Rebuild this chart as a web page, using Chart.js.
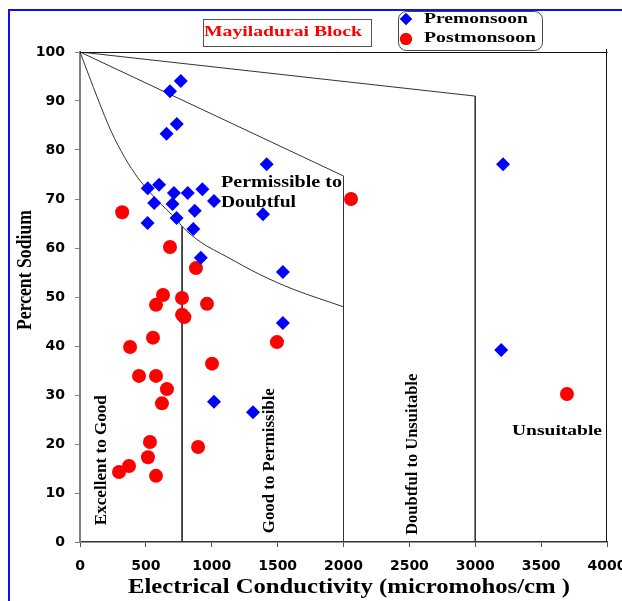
<!DOCTYPE html>
<html>
<head>
<meta charset="utf-8">
<title>Mayiladurai Block - Wilcox diagram</title>
<script src="https://cdn.jsdelivr.net/npm/chart.js@4.4.1/dist/chart.umd.min.js"></script>
<style>
    html, body { margin: 0; padding: 0; background: #fff; }
    #wrap { width: 622px; height: 601px; }
</style>
</head>
<body>
<div id="wrap"><canvas id="wilcoxChart" width="622" height="601"></canvas></div>
<script>
// --- data ---
const preEC = [765, 683, 735, 657, 1417, 3211, 514, 600, 713, 818, 929, 1017, 563, 702, 871, 1389, 733, 513, 860, 917, 1540, 1540, 1017, 1313, 3197];
const preNa = [94.1, 92.0, 85.3, 83.3, 77.1, 77.1, 72.2, 72.9, 71.2, 71.2, 72.0, 69.6, 69.2, 69.0, 67.6, 66.9, 66.1, 65.1, 63.9, 58.0, 55.1, 44.7, 28.6, 26.5, 39.2];

const postEC = [320, 683, 880, 2057, 630, 774, 577, 964, 775, 792, 554, 380, 1495, 1002, 448, 577, 660, 622, 531, 896, 516, 372, 296, 577, 3696];
const postNa = [67.3, 60.2, 55.9, 70.0, 50.4, 49.8, 48.4, 48.6, 46.4, 45.9, 41.7, 39.8, 40.8, 36.4, 33.9, 33.9, 31.2, 28.3, 20.4, 19.4, 17.3, 15.5, 14.3, 13.5, 30.2];

// class boundaries of the diagram
const topLineEC = [0, 3000, 3000];
const topLineNa = [100, 91, 0];
const midLineEC = [0, 2000, 2000];
const midLineNa = [100, 74.7, 0];
const lowCurveEC = [0, 136, 235, 341, 440, 569, 743, 775, 911, 1115, 1364, 1617, 2000];
const lowCurveNa = [100, 90.4, 83.9, 78.4, 74.3, 70.2, 65.5, 64.4, 61.3, 58.2, 54.6, 51.6, 48];
const goodLineEC = [775, 775];
const goodLineNa = [64.4, 0];

const ecTicks = [0, 500, 1000, 1500, 2000, 2500, 3000, 3500, 4000];
const naTicks = [0, 10, 20, 30, 40, 50, 60, 70, 80, 90, 100];

const BLUE = "#0000ff";
const RED = "#ff0000";
const LINE = "#333333";
const SERIF = '"Liberation Serif", "Times New Roman", serif';

function toPoints(xs, ys) {
    return xs.map((x, i) => ({ x: x, y: ys[i] }));
}

function boundary(xs, ys, smooth) {
    return {
        data: toPoints(xs, ys),
        showLine: true,
        pointRadius: 0,
        borderColor: LINE,
        borderWidth: 1,
        fill: false,
        tension: 0,
        cubicInterpolationMode: smooth ? "monotone" : "default",
        isBoundary: true
    };
}

// draws text squeezed/stretched to a given length
function fitText(ctx, text, x, y, font, length, align, angle) {
    ctx.save();
    ctx.font = font;
    const sx = length / ctx.measureText(text).width;
    ctx.translate(x, y);
    if (angle) ctx.rotate(angle);
    ctx.scale(sx, 1);
    ctx.textAlign = align;
    ctx.textBaseline = "middle";
    ctx.fillText(text, 0, 0);
    ctx.restore();
}

const framePlugin = {
    id: "frame",
    beforeDraw(chart) {
        const ctx = chart.ctx;
        ctx.save();
        ctx.fillStyle = "#ffffff";
        ctx.fillRect(0, 0, chart.width, chart.height);
        ctx.strokeStyle = "#1010f0";
        ctx.lineWidth = 2;
        ctx.beginPath();
        ctx.moveTo(9, chart.height);
        ctx.lineTo(9, 10);
        ctx.lineTo(chart.width, 10);
        ctx.stroke();
        ctx.restore();
    },
    afterDraw(chart) {
        const ctx = chart.ctx;
        const a = chart.chartArea;
        const xs = chart.scales.x;
        const ys = chart.scales.y;

        // top and right edge of the plot
        ctx.save();
        ctx.strokeStyle = "#111";
        ctx.lineWidth = 1;
        ctx.beginPath();
        ctx.moveTo(a.left, a.top + 0.5);
        ctx.lineTo(a.right + 0.5, a.top + 0.5);
        ctx.moveTo(a.right - 0.5, a.top - 3);
        ctx.lineTo(a.right - 0.5, a.bottom);
        ctx.stroke();
        ctx.restore();

        ctx.save();
        ctx.fillStyle = "#000";
        const f16 = "bold 16px " + SERIF;
        const f15 = "bold 15px " + SERIF;

        // class labels, placed in data units
        fitText(ctx, "Permissible to", xs.getPixelForValue(1070), ys.getPixelForValue(73.3), f16, 121, "left");
        fitText(ctx, "Doubtful", xs.getPixelForValue(1070), ys.getPixelForValue(69.2), f16, 75, "left");
        fitText(ctx, "Excellent to Good", xs.getPixelForValue(167), ys.getPixelForValue(16.7), f16, 130, "center", -Math.PI / 2);
        fitText(ctx, "Good to Permissible", xs.getPixelForValue(1442), ys.getPixelForValue(16.6), f16, 145, "center", -Math.PI / 2);
        fitText(ctx, "Doubtful to Unsuitable", xs.getPixelForValue(2527), ys.getPixelForValue(17.9), f16, 161, "center", -Math.PI / 2);
        fitText(ctx, "Unsuitable", xs.getPixelForValue(3279), ys.getPixelForValue(22.7), f15, 90, "left");

        // axis titles
        fitText(ctx, "Percent Sodium", 26, 270, "bold 20px " + SERIF, 120, "center", -Math.PI / 2);
        fitText(ctx, "Electrical Conductivity (micromohos/cm )", 349, 588, "bold 20px " + SERIF, 442, "center");

        // block name box
        ctx.strokeStyle = "#555";
        ctx.lineWidth = 1;
        ctx.strokeRect(203.5, 19.5, 168, 27);
        ctx.fillStyle = RED;
        fitText(ctx, "Mayiladurai Block", 283, 32, f15, 158, "center");

        // legend box
        const lx = 398.5, ly = 11.5, lw = 144, lh = 39, r = 8;
        ctx.fillStyle = "#fff";
        ctx.strokeStyle = "#444";
        ctx.beginPath();
        ctx.roundRect(lx, ly, lw, lh, r);
        ctx.fill();
        ctx.stroke();

        const series = chart.data.datasets.filter(d => !d.isBoundary);
        const rows = [19, 39];
        series.forEach((ds, i) => {
            ctx.fillStyle = ds.backgroundColor;
            Chart.helpers.drawPoint(ctx, {
                pointStyle: ds.pointStyle,
                radius: 6,
                borderWidth: 0
            }, 406, rows[i]);
            ctx.fill();
            ctx.fillStyle = "#000";
            fitText(ctx, ds.label, 424, i === 0 ? 19 : 38, f15, i === 0 ? 104 : 112, "left");
        });
        ctx.restore();
    }
};

function renderWilcoxChart() {
    const ctx = document.getElementById("wilcoxChart").getContext("2d");

    new Chart(ctx, {
        type: "scatter",
        data: {
            datasets: [
                {
                    label: "Premonsoon",
                    data: toPoints(preEC, preNa),
                    pointStyle: "rectRot",
                    pointRadius: 7,
                    backgroundColor: BLUE,
                    borderColor: BLUE,
                    borderWidth: 0
                },
                {
                    label: "Postmonsoon",
                    data: toPoints(postEC, postNa),
                    pointStyle: "circle",
                    pointRadius: 7,
                    backgroundColor: RED,
                    borderColor: RED,
                    borderWidth: 0
                },
                boundary(topLineEC, topLineNa, false),
                boundary(midLineEC, midLineNa, false),
                boundary(lowCurveEC, lowCurveNa, true),
                boundary(goodLineEC, goodLineNa, false)
            ]
        },
        options: {
            responsive: false,
            animation: false,
            layout: { padding: { top: 52, right: 15, left: 0, bottom: 0 } },
            plugins: {
                legend: { display: false },
                tooltip: { enabled: false }
            },
            scales: {
                x: {
                    type: "linear",
                    min: 0,
                    max: 4000,
                    afterBuildTicks: scale => {
                        scale.ticks = ecTicks.map(v => ({ value: v }));
                    },
                    afterFit: scale => {
                        scale.height = 59;
                        scale.paddingRight = 0;
                    },
                    grid: { drawOnChartArea: false, tickLength: 5, color: "#555" },
                    border: { color: "#333", width: 1.5 },
                    ticks: {
                        padding: 11,
                        color: "#000",
                        maxRotation: 0,
                        autoSkip: false,
                        callback: value => String(value),
                        font: { family: "DejaVu Sans", size: 14, weight: "bold" }
                    }
                },
                y: {
                    type: "linear",
                    min: 0,
                    max: 100,
                    afterBuildTicks: scale => {
                        scale.ticks = naTicks.map(v => ({ value: v }));
                    },
                    afterFit: scale => {
                        scale.width = 80;
                    },
                    grid: { drawOnChartArea: false, tickLength: 5, color: "#808080" },
                    border: { color: "#808080", width: 2 },
                    ticks: {
                        padding: 10,
                        color: "#000",
                        callback: value => String(value),
                        font: { family: "DejaVu Sans", size: 14, weight: "bold" }
                    }
                }
            }
        },
        plugins: [framePlugin]
    });
}

document.addEventListener("DOMContentLoaded", renderWilcoxChart);
</script>
</body>
</html>
